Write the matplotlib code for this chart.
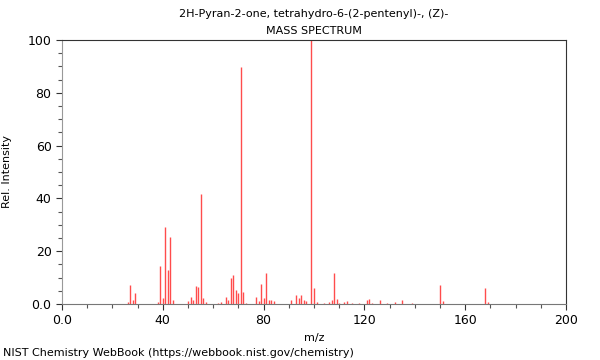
import matplotlib
matplotlib.use("Agg")
import matplotlib.pyplot as plt
from matplotlib.ticker import MultipleLocator

# peaks
mz = [26, 27, 28, 29, 38, 39, 40, 41, 42, 43, 44, 50, 51, 52, 53, 54, 55, 56, 57,
      62, 63, 65, 66, 67, 68, 69, 70, 71, 72, 73, 77, 78, 79, 80, 81, 82, 83, 84,
      91, 93, 94, 95, 96, 97, 99, 100, 101, 104, 106, 107, 108, 109, 110, 112, 113,
      115, 118, 121, 122, 123, 126, 129, 132, 135, 139, 150, 151, 168, 169]
intensity = [0.8, 7.2, 1.6, 4.2, 0.9, 14.5, 2.4, 29.2, 12.9, 25.4, 1.5, 1.0, 2.6, 1.5, 7.0, 6.4, 41.7, 2.2, 0.8,
             0.3, 0.8, 2.5, 1.5, 10.0, 10.9, 5.3, 4.3, 89.8, 4.4, 0.4, 2.5, 1.3, 7.6, 2.2, 11.6, 1.6, 1.5, 1.0,
             1.5, 3.5, 2.1, 3.5, 1.5, 1.3, 100.0, 6.0, 0.8, 0.3, 0.9, 1.5, 11.6, 1.9, 0.3, 0.6, 1.1,
             0.3, 0.3, 1.5, 1.9, 0.5, 1.4, 0.3, 0.8, 1.5, 0.5, 7.3, 1.1, 6.0, 0.9]

fig = plt.figure(figsize=(6, 3.6), dpi=100)
ax = fig.add_axes([0.1033, 0.1556, 0.84, 0.7333])

ax.vlines(mz, 0, intensity, colors="red", linewidth=1, alpha=0.7)

ax.set_xlim(0, 200)
ax.set_ylim(0, 100)
ax.xaxis.set_minor_locator(MultipleLocator(10))
ax.yaxis.set_minor_locator(MultipleLocator(5))
ax.set_xticks([0, 40, 80, 120, 160, 200])
ax.set_xticklabels(["0.0", "40", "80", "120", "160", "200"])
ax.set_yticks([0, 20, 40, 60, 80, 100])
ax.set_yticklabels(["0.0", "20", "40", "60", "80", "100"])
ax.tick_params(labelsize=9, length=4, width=0.8, color="#333333")
ax.tick_params(which="minor", length=3, width=0.8, color="#555555")

ax.spines["left"].set_color("#999999")
ax.spines["bottom"].set_color("#777777")
ax.spines["top"].set_color("#333333")
ax.spines["right"].set_color("#333333")

ax.set_xlabel("m/z", fontsize=8)
ax.set_ylabel("Rel. Intensity", fontsize=8)
ax.yaxis.set_label_coords(-0.1, 0.5)

fig.text(0.523, 0.962, "2H-Pyran-2-one, tetrahydro-6-(2-pentenyl)-, (Z)-", ha="center", va="center", fontsize=8)
fig.text(0.523, 0.915, "MASS SPECTRUM", ha="center", va="center", fontsize=8)
fig.text(0.005, 0.02, "NIST Chemistry WebBook (https://webbook.nist.gov/chemistry)", ha="left", va="center", fontsize=8)

fig.savefig("out.png", dpi=100)
